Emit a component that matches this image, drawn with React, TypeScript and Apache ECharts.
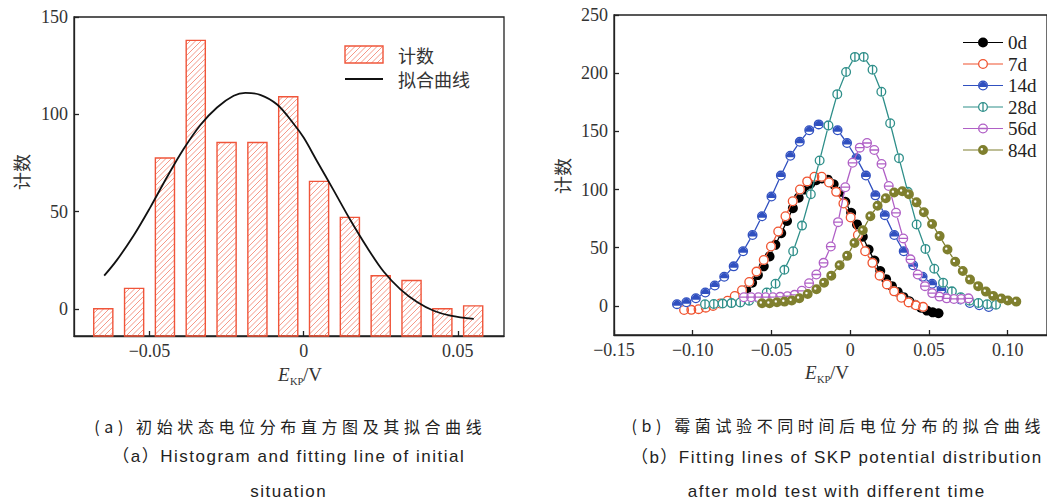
import React, { useEffect, useRef } from 'react';
import * as echarts from 'echarts';

// ---------- (a) histogram ----------
const histBinCenters = [-0.065, -0.055, -0.045, -0.035, -0.025, -0.015, -0.005, 0.005, 0.015, 0.025, 0.035, 0.045, 0.055];
const histCounts = [0, 10.5, 77.5, 138, 85.5, 85.5, 109, 65.5, 47, 17, 14.5, 0, 1.5];
const histBinWidth = 0.01;

const fitCurveX = [-0.0647, -0.0606, -0.0552, -0.0498, -0.0444, -0.039, -0.0335, -0.0281, -0.0227, -0.0189, -0.0141, -0.0086, -0.0032, 0.0, 0.0043, 0.0097, 0.0152, 0.0206, 0.026, 0.0314, 0.0368, 0.0422, 0.0476, 0.0552];
const fitCurveY = [17, 25, 37.5, 52, 67.5, 82, 94.5, 103.5, 109.5, 111, 110, 105, 95, 88, 76, 61, 45.5, 31.5, 19, 10, 3.5, -1, -3.5, -5.2];

// ---------- (b) fitted distributions ----------
const seriesNames = ['0d', '7d', '14d', '28d', '56d', '84d'];

const x0d = [-0.066, -0.0623, -0.0586, -0.0549, -0.0512, -0.0475, -0.0438, -0.0401, -0.0364, -0.0327, -0.029, -0.0253, -0.0216, -0.0179, -0.0142, -0.0105, -0.0068, -0.0031, 0.0006, 0.0043, 0.008, 0.0117, 0.0154, 0.0191, 0.0228, 0.0265, 0.0302, 0.0339, 0.0376, 0.0413, 0.045, 0.0487, 0.0524, 0.0561];
const y0d = [13.7, 20, 26.5, 34, 42.5, 52.5, 62.5, 73, 84, 93, 100, 105, 108, 109.5, 108.5, 104.5, 98, 89.5, 80, 70, 59.5, 48.5, 39, 30, 23, 17, 12, 7.5, 4, 1, -1.5, -4, -5.5, -6.3];

const x7d = [-0.1055, -0.1009, -0.0963, -0.0917, -0.0871, -0.0825, -0.0779, -0.0733, -0.0687, -0.0641, -0.0595, -0.0549, -0.0503, -0.0457, -0.0411, -0.0365, -0.0319, -0.0273, -0.0227, -0.0181, -0.0135, -0.0089, -0.0043, 0.0003, 0.0049, 0.0095, 0.0141, 0.0187, 0.0233, 0.0279, 0.0325, 0.0371, 0.0417, 0.0463];
const y7d = [-3.5, -3.4, -2.8, -1.5, 0, 2, 4.5, 8.5, 13.5, 20.5, 29.5, 39.5, 51, 64, 77, 90, 100, 107, 111, 111, 106, 98, 88, 76, 61, 47, 37, 26, 18.5, 12.5, 7, 3, 0.5, -0.8];

const x14d = [-0.11, -0.104, -0.098, -0.092, -0.086, -0.08, -0.074, -0.068, -0.062, -0.056, -0.05, -0.044, -0.038, -0.032, -0.026, -0.02, -0.014, -0.008, -0.002, 0.004, 0.01, 0.016, 0.022, 0.028, 0.034, 0.04, 0.046, 0.052, 0.058, 0.064, 0.07, 0.076, 0.082, 0.088];
const y14d = [1.5, 3.2, 6.6, 11.5, 17.5, 25, 34, 47, 61, 77, 94, 112, 129, 141, 151, 156, 155, 151, 140, 127, 112, 95, 78, 61, 47, 35, 25, 19, 14, 9.5, 5.5, 2.5, 0.5, -1];

const x28d = [-0.0922, -0.0866, -0.081, -0.0754, -0.0698, -0.0642, -0.0586, -0.053, -0.0474, -0.0418, -0.0362, -0.0306, -0.025, -0.0194, -0.0138, -0.0082, -0.0026, 0.003, 0.0086, 0.0142, 0.0198, 0.0254, 0.031, 0.0366, 0.0422, 0.0478, 0.0534, 0.059, 0.0646, 0.0702, 0.0758, 0.0814, 0.087, 0.0926];
const y28d = [1.5, 1.7, 2, 2.4, 3, 4.5, 7, 11.5, 19, 31, 47, 69, 96, 125, 155, 182, 201, 214, 214, 203, 184, 157, 127, 98, 70, 49, 32, 20, 12.5, 7.5, 4.5, 2.5, 1.5, 1];

const x56d = [-0.0675, -0.0629, -0.0583, -0.0537, -0.0491, -0.0445, -0.0399, -0.0353, -0.0307, -0.0261, -0.0215, -0.0169, -0.0123, -0.0077, -0.0031, 0.0015, 0.0061, 0.0107, 0.0153, 0.0199, 0.0245, 0.0291, 0.0337, 0.0383, 0.0429, 0.0475, 0.0521, 0.0567, 0.0613, 0.0659, 0.0705, 0.0751];
const y56d = [7.5, 7.5, 7.5, 7.5, 7.5, 7.8, 8.3, 9.5, 13, 19.5, 27, 37, 51, 72, 102, 123, 136, 140, 134, 122, 103, 80, 58, 40, 27, 17, 11, 8, 6.5, 6, 6, 6.5];

const x84d = [-0.056, -0.0512, -0.0465, -0.0417, -0.0371, -0.0323, -0.027, -0.0214, -0.0166, -0.012, -0.0067, -0.0019, 0.0027, 0.008, 0.0128, 0.0174, 0.0226, 0.0279, 0.0331, 0.0373, 0.0421, 0.0468, 0.052, 0.0568, 0.0618, 0.0667, 0.0715, 0.0761, 0.0813, 0.0862, 0.0908, 0.096, 0.1002, 0.1055];
const y84d = [2.3, 2.3, 3.2, 3.7, 4.6, 6.6, 10.3, 14.3, 20, 26, 35, 43, 54, 65, 77, 86, 92.5, 97.5, 98.5, 96, 89, 80.5, 70.4, 60, 48.5, 38, 30, 22.6, 17, 12.3, 8.6, 6.3, 4.7, 3.7];

const seriesX = [x0d, x7d, x14d, x28d, x56d, x84d];
const seriesY = [y0d, y7d, y14d, y28d, y56d, y84d];

// tick labels
const xTicksA = [-0.05, 0, 0.05];
const yTicksA = [0, 50, 100, 150];
const xTicksB = [-0.15, -0.1, -0.05, 0, 0.05, 0.1];
const yTicksB = [0, 50, 100, 150, 200, 250];

// ---------- styles ----------
const SERIF = '"Liberation Serif", "Times New Roman", serif';
const CJK = '"Noto Sans CJK SC", "Noto Sans", sans-serif';
const SANS = '"Liberation Sans", Arial, "Noto Sans CJK SC", sans-serif';
const AXIS_COLOR = '#222';
const LABEL_COLOR = '#333';
const BAR_BORDER = '#f0553a';
const BAR_HATCH = '#f27d68';
const colors = ['#000000', '#f0532f', '#3050c0', '#2f8f8a', '#b060c6', '#7f7f2e'];

const RING = 'M0 5A5 5 0 1 1 10 5A5 5 0 1 1 0 5Z M1.3 5A3.7 3.7 0 1 0 8.7 5A3.7 3.7 0 1 0 1.3 5Z';
const markerPaths = [
  null,
  RING,
  RING + ' M1.62 6.5A3.7 3.7 0 1 1 8.38 6.5Z',
  RING + ' M4.35 1.3H5.65V8.7H4.35Z',
  RING + ' M1.3 4.35H8.7V5.65H1.3Z',
  'M0 5A5 5 0 1 1 10 5A5 5 0 1 1 0 5Z M2.6 4.2A1.2 1.2 0 1 0 5 4.2A1.2 1.2 0 1 0 2.6 4.2Z',
];
const LEG_LINE = 'M0 4.4H15V5.6H0Z M25 4.4H40V5.6H25Z ';
const LEG_RING = 'M15 5A5 5 0 1 1 25 5A5 5 0 1 1 15 5Z M16.3 5A3.7 3.7 0 1 0 23.7 5A3.7 3.7 0 1 0 16.3 5Z';
const legendIcons = [
  LEG_LINE + 'M15 5A5 5 0 1 1 25 5A5 5 0 1 1 15 5Z',
  LEG_LINE + LEG_RING,
  LEG_LINE + LEG_RING + ' M16.62 6.5A3.7 3.7 0 1 1 23.38 6.5Z',
  LEG_LINE + LEG_RING + ' M19.35 1.3H20.65V8.7H19.35Z',
  LEG_LINE + LEG_RING + ' M16.3 4.35H23.7V5.65H16.3Z',
  LEG_LINE + 'M15 5A5 5 0 1 1 25 5A5 5 0 1 1 15 5Z M17.6 4.2A1.2 1.2 0 1 0 20 4.2A1.2 1.2 0 1 0 17.6 4.2Z',
];

const Y_MIN_A = -14;
const Y_MAX_A = 150;
const Y_MIN_B = -25;
const Y_MAX_B = 250;

function fmtX(v: number) {
  if (Math.abs(v) < 1e-12) return '0';
  return (v < 0 ? '\u2212' : '') + Math.abs(v).toFixed(2);
}
function fmtY(v: number) {
  return String(Math.round(v));
}

function hatch(x0: number, y0: number, x1: number, y1: number, step: number, color: string, lw: number) {
  const out: any[] = [];
  const start = Math.ceil((x0 + y0) / step) * step;
  for (let c = start; c <= x1 + y1; c += step) {
    const xa = Math.max(x0, c - y1);
    const xb = Math.min(x1, c - y0);
    if (xb - xa > 0.3) {
      out.push({ type: 'line', silent: true, shape: { x1: xa, y1: c - xa, x2: xb, y2: c - xb }, style: { stroke: color, lineWidth: lw } });
    }
  }
  return out;
}

const captions = [
  { text: '(a) 初始状态电位分布直方图及其拟合曲线', cx: 288, cy: 426, cjk: true },
  { text: '（a）Histogram and fitting line of initial', cx: 288, cy: 457, cjk: false },
  { text: 'situation', cx: 288, cy: 492, cjk: false },
  { text: '(b) 霉菌试验不同时间后电位分布的拟合曲线', cx: 836, cy: 425, cjk: true },
  { text: '（b）Fitting lines of SKP potential distribution', cx: 836, cy: 458, cjk: false },
  { text: 'after mold test with different time', cx: 836, cy: 492, cjk: false },
];

function axisCommon(ticks: number[], fmt: (v: number) => string) {
  return {
    axisLine: { show: true, onZero: false, lineStyle: { color: AXIS_COLOR, width: 1.3 } },
    axisTick: { show: true, inside: true, length: 5, customValues: ticks, lineStyle: { color: AXIS_COLOR, width: 1.3 } },
    axisLabel: { customValues: ticks, formatter: fmt, fontFamily: SERIF, fontSize: 18, color: LABEL_COLOR, margin: 6 },
    splitLine: { show: false },
  };
}

function axisTitle(x: number, y: number, fontSize: number) {
  return {
    type: 'group',
    children: [
      { type: 'text', x, y, style: { text: 'E', fontFamily: SERIF, fontStyle: 'italic', fontSize, fill: LABEL_COLOR, align: 'left', verticalAlign: 'middle', textAlign: 'left', textVerticalAlign: 'middle' } },
      { type: 'text', x: x + 12, y: y + 7, style: { text: 'KP', fontFamily: SERIF, fontSize: 10.5, fill: LABEL_COLOR, align: 'left', verticalAlign: 'middle', textAlign: 'left', textVerticalAlign: 'middle' } },
      { type: 'text', x: x + 25, y, style: { text: '/V', fontFamily: SERIF, fontSize, fill: LABEL_COLOR, align: 'left', verticalAlign: 'middle', textAlign: 'left', textVerticalAlign: 'middle' } },
    ],
  };
}

function yTitle(x: number, y: number) {
  return {
    type: 'text', x, y, rotation: Math.PI / 2,
    style: { text: '计数', fontFamily: CJK, fontSize: 18, fill: LABEL_COLOR, align: 'center', verticalAlign: 'middle', textAlign: 'center', textVerticalAlign: 'middle' },
  };
}

export default function App() {
  const ref = useRef<HTMLDivElement>(null);

  useEffect(() => {
    if (!ref.current) return;
    const chart = echarts.init(ref.current, undefined, { renderer: 'svg' });

    const series: any[] = [];
    series.push({
      type: 'custom',
      name: 'hist',
      xAxisIndex: 0,
      yAxisIndex: 0,
      data: histBinCenters.map((c, i) => [c, histCounts[i]]),
      renderItem: (params: any, api: any) => {
        const cx = api.value(0);
        const cnt = api.value(1);
        const top = api.coord([cx, cnt]);
        const bottom = api.coord([cx, Y_MIN_A]);
        const w = api.size([histBinWidth, 0])[0] * 0.62;
        const x0 = top[0] - w / 2;
        const x1 = top[0] + w / 2;
        const y0 = top[1];
        const y1 = bottom[1];
        return {
          type: 'group',
          children: [
            ...hatch(x0, y0, x1, y1, 5.5, BAR_HATCH, 0.8),
            { type: 'rect', shape: { x: x0, y: y0, width: w, height: y1 - y0 }, style: { fill: 'none', stroke: BAR_BORDER, lineWidth: 1.4 } },
          ],
        };
      },
    });
    series.push({
      type: 'line',
      name: 'fit',
      xAxisIndex: 0,
      yAxisIndex: 0,
      data: fitCurveX.map((x, i) => [x, fitCurveY[i]]),
      smooth: 0.35,
      symbol: 'none',
      lineStyle: { color: '#111', width: 1.8 },
      z: 3,
    });

    seriesNames.forEach((name, k) => {
      const data = seriesX[k].map((x, i) => [x, seriesY[k][i]]);
      const col = colors[k];
      const solid = k === 0;
      series.push({
        type: 'line',
        name,
        xAxisIndex: 1,
        yAxisIndex: 1,
        data,
        symbol: 'circle',
        symbolSize: 10,
        itemStyle: { color: solid ? col : '#ffffff', borderWidth: 0 },
        lineStyle: { color: col, width: 1.3 },
        z: 10 + 2 * k,
      });
      if (markerPaths[k]) {
        series.push({
          type: 'scatter',
          name: name + '-marker',
          xAxisIndex: 1,
          yAxisIndex: 1,
          data,
          symbol: 'path://' + markerPaths[k],
          symbolSize: 10,
          itemStyle: { color: col, opacity: 1, borderWidth: 0 },
          silent: true,
          z: 11 + 2 * k,
        });
      }
    });

    const legendGraphic = {
      type: 'group',
      children: [
        ...hatch(345, 46, 383, 63, 5.5, BAR_HATCH, 0.8),
        { type: 'rect', shape: { x: 345, y: 46, width: 38, height: 17 }, style: { fill: 'none', stroke: BAR_BORDER, lineWidth: 1.4 } },
        { type: 'line', shape: { x1: 345, y1: 79, x2: 383, y2: 79 }, style: { stroke: '#111', lineWidth: 1.8 } },
        { type: 'text', x: 398, y: 55, style: { text: '计数', fontFamily: CJK, fontSize: 18, fill: LABEL_COLOR, align: 'left', verticalAlign: 'middle', textAlign: 'left', textVerticalAlign: 'middle' } },
        { type: 'text', x: 398, y: 79, style: { text: '拟合曲线', fontFamily: CJK, fontSize: 18, fill: LABEL_COLOR, align: 'left', verticalAlign: 'middle', textAlign: 'left', textVerticalAlign: 'middle' } },
      ],
    };

    const option: any = {
      animation: false,
      backgroundColor: '#ffffff',
      grid: [
        { left: 74, top: 17, width: 430, height: 319, show: true, borderColor: AXIS_COLOR, borderWidth: 1.3, backgroundColor: 'transparent' },
        { left: 614, top: 15, width: 437, height: 320, show: true, borderColor: AXIS_COLOR, borderWidth: 1.3, backgroundColor: 'transparent' },
      ],
      xAxis: [
        { type: 'value', gridIndex: 0, min: -0.0745, max: 0.065, ...axisCommon(xTicksA, fmtX) },
        { type: 'value', gridIndex: 1, min: -0.15, max: 0.125, ...axisCommon(xTicksB, fmtX) },
      ],
      yAxis: [
        { type: 'value', gridIndex: 0, min: Y_MIN_A, max: Y_MAX_A, ...axisCommon(yTicksA, fmtY) },
        { type: 'value', gridIndex: 1, min: Y_MIN_B, max: Y_MAX_B, ...axisCommon(yTicksB, fmtY) },
      ],
      legend: {
        orient: 'vertical',
        left: 963,
        top: 32,
        padding: 0,
        itemWidth: 40,
        itemHeight: 10,
        itemGap: 0.5,
        selectedMode: false,
        textStyle: { fontFamily: SERIF, fontSize: 19, color: '#222', lineHeight: 21 },
        data: seriesNames.map((n, i) => ({ name: n, icon: 'path://' + legendIcons[i], itemStyle: { color: colors[i], borderWidth: 0 } })),
      },
      graphic: [
        legendGraphic,
        yTitle(21, 172),
        yTitle(562, 176),
        axisTitle(278, 374, 19),
        axisTitle(805, 372, 19),
      ],
      series,
    };

    chart.setOption(option);
    return () => chart.dispose();
  }, []);

  return (
    <div style={{ position: 'absolute', left: 0, top: 0, width: 1047, height: 504, background: '#fff', overflow: 'hidden' }}>
      <div ref={ref} style={{ position: 'absolute', left: 0, top: 0, width: 1047, height: 504 }} />
      {captions.map((c, i) => (
        <div
          key={i}
          style={{
            position: 'absolute',
            left: c.cx,
            top: c.cy - 12,
            transform: 'translateX(-50%)',
            height: 24,
            lineHeight: '24px',
            whiteSpace: 'nowrap',
            fontFamily: c.cjk ? CJK : SANS,
            fontSize: c.cjk ? 16 : 17,
            letterSpacing: c.cjk ? '4.6px' : '1.5px',
            paddingLeft: c.cjk ? 4.6 : 1.5,
            color: '#222',
          }}
        >
          {c.text}
        </div>
      ))}
    </div>
  );
}
